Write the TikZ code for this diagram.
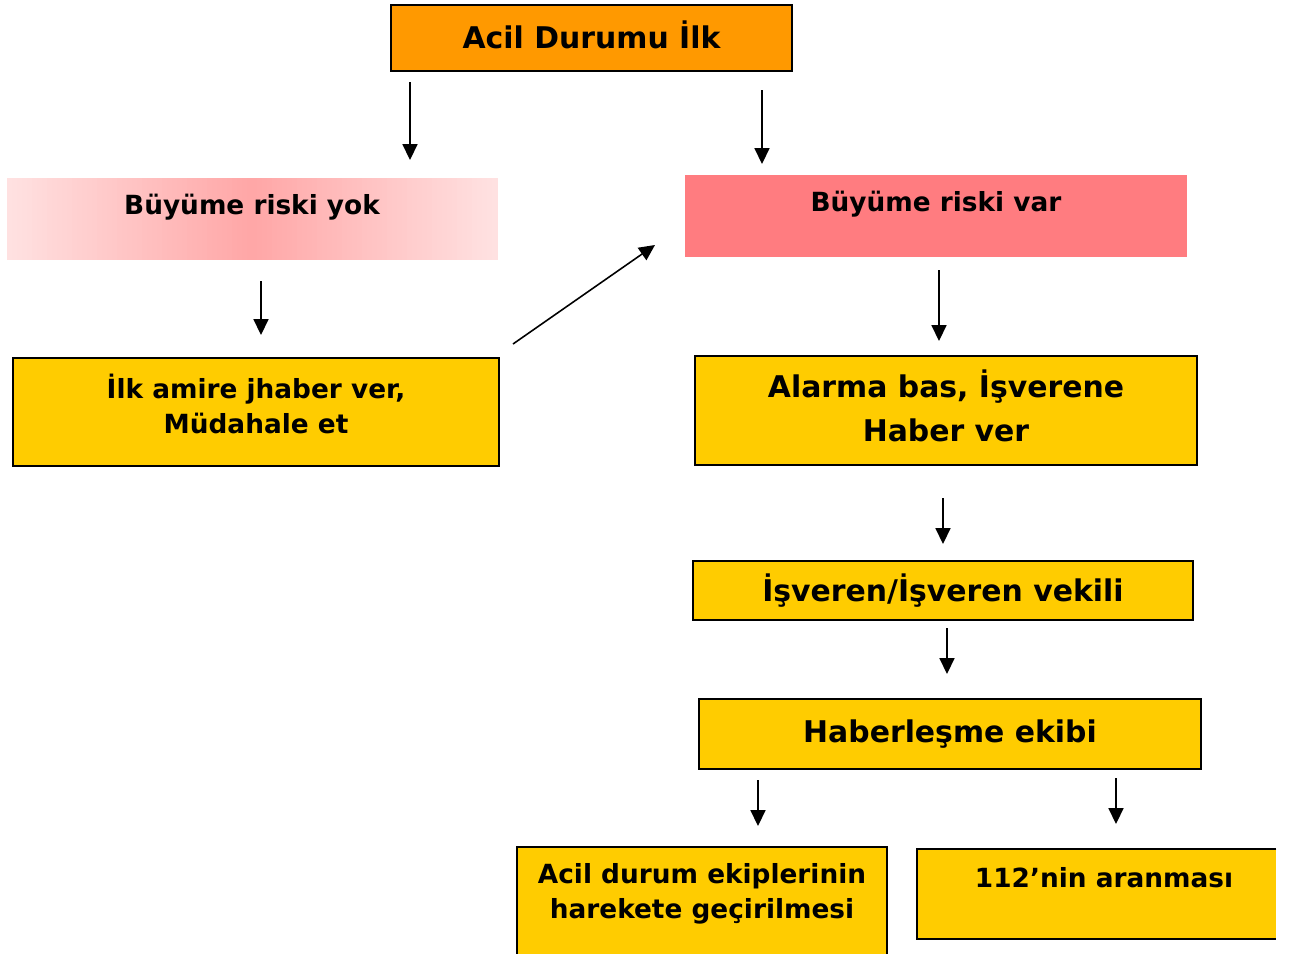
\documentclass[tikz,border=0pt]{standalone}
\usepackage{fontspec}
\setmainfont{DejaVu Sans}
\usepackage{tikz}
\usetikzlibrary{arrows.meta,positioning}
\definecolor{startorange}{HTML}{FF9900}
\definecolor{riskred}{HTML}{FF7C80}
\definecolor{riskpale}{HTML}{FFE2E2}
\definecolor{riskmid}{HTML}{FFA6A6}
\definecolor{stepyellow}{HTML}{FFCC00}

\begin{document}
\begin{tikzpicture}[x=0.02cm,y=-0.02cm,
    box/.style={draw, line width=1pt, fill=stepyellow, inner sep=0pt, align=center,
                font=\bfseries\fontsize{17}{25}\selectfont},
    lbl/.style={inner sep=0pt, align=center, font=\bfseries\fontsize{15}{20}\selectfont},
    flow/.style={-{Triangle[length=9pt,width=8.5pt]}, line width=0.9pt}]
      \useasboundingbox (0,0) rectangle (1296,954);
      \clip (0,0) rectangle (1296,954);

      \node[box, fill=startorange, minimum width=401*0.02cm, minimum height=66*0.02cm] (start) at (591.5,38) {};
      \node[inner sep=0pt, font=\bfseries\fontsize{17}{25}\selectfont] (starttext) at (591.5,35) {Acil Durumu İlk};

      % pale box, shaded from the middle outwards
      \node[draw=none, minimum width=490*0.02cm, minimum height=82*0.02cm] (yok) at (252,219) {};
      \foreach \i in {0,...,97} {
        \pgfmathsetmacro{\xa}{7+5*\i}
        \pgfmathsetmacro{\xb}{\xa+5.5}
        \pgfmathsetmacro{\mix}{100-abs(\xa+2.5-252)/245*100}
        \fill[riskmid!\mix!riskpale] (\xa,178) rectangle (\xb,260);
      }
      \node[lbl] (yoktext) at (252,207) {Büyüme riski yok};
      \node[draw=none, fill=riskred, minimum width=502*0.02cm, minimum height=82*0.02cm] (var) at (936,216) {};
      \node[lbl] (vartext) at (936,204) {Büyüme riski var};

      \node[box, minimum width=486*0.02cm, minimum height=108*0.02cm] (amir) at (256,412) {};
      \node[lbl] (amirtext) at (256,404) {İlk amire jhaber ver,\\Müdahale et};
      \node[box, minimum width=502*0.02cm, minimum height=109*0.02cm] (alarm) at (946,410.5) {};
      \node[inner sep=0pt, align=center, font=\bfseries\fontsize{17}{25}\selectfont] (alarmtext) at (946,406) {Alarma bas, İşverene\\Haber ver};
      \node[box, minimum width=500*0.02cm, minimum height=59*0.02cm] (isveren) at (943,590.5) {İşveren/İşveren vekili};
      \node[box, minimum width=502*0.02cm, minimum height=70*0.02cm] (haber) at (950,734) {Haberleşme ekibi};

      \node[box, minimum width=370*0.02cm, minimum height=118*0.02cm] (ekip) at (702,906) {};
      \node[lbl] (ekiptext) at (702,894) {Acil durum ekiplerinin\\harekete geçirilmesi};
      \node[fill=stepyellow, inner sep=0pt, minimum width=359*0.02cm, minimum height=90*0.02cm] (acil) at (1096.5,894) {};
      \draw[line width=1pt] (acil.north east) -- (acil.north west) -- (acil.south west) -- (acil.south east);
      \node[lbl] (aciltext) at (1104,878) {112’nin aranması};

      % arrows
      \coordinate (s1) at (410,82);   \coordinate (e1) at (410,160);
      \coordinate (s2) at (762,90);   \coordinate (e2) at (762,164);
      \coordinate (s3) at (261,281);  \coordinate (e3) at (261,335);
      \coordinate (s4) at (513,344);  \coordinate (e4) at (655,245);
      \coordinate (s5) at (939,270);  \coordinate (e5) at (939,341);
      \coordinate (s6) at (943,498);  \coordinate (e6) at (943,544);
      \coordinate (s7) at (947,628);  \coordinate (e7) at (947,674);
      \coordinate (s8) at (758,780);  \coordinate (e8) at (758,826);
      \coordinate (s9) at (1116,778); \coordinate (e9) at (1116,824);
      \foreach \i in {1,...,9}
        \draw[flow] (s\i) -- (e\i);
\end{tikzpicture}
\end{document}
